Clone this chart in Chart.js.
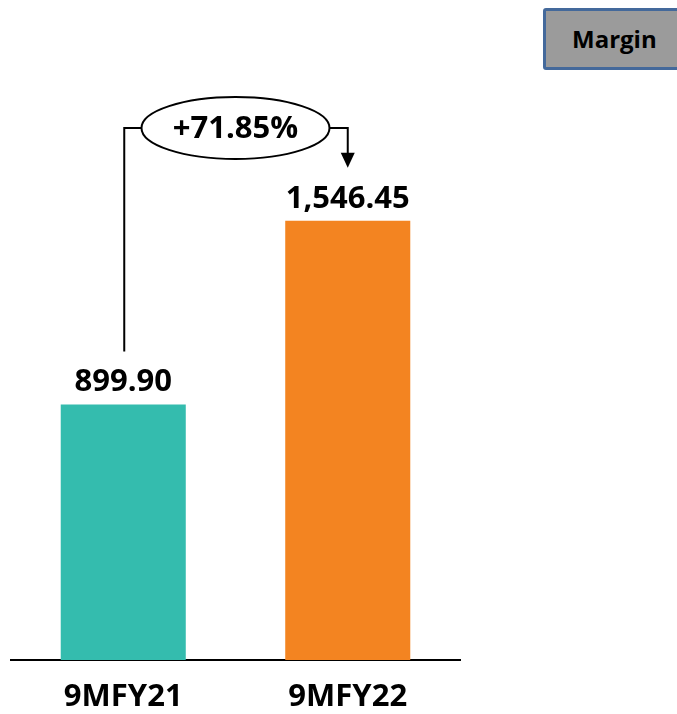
<!DOCTYPE html>
<html>
<head>
<meta charset="utf-8">
<script src="https://cdn.jsdelivr.net/npm/chart.js@4/dist/chart.umd.min.js"></script>
<style>
  html, body { margin: 0; padding: 0; background: #fff; }
  #wrap { position: relative; width: 677px; height: 714px; }
  #margin {
    position: absolute; left: 543px; top: 8px; width: 140px; height: 62px;
    box-sizing: border-box; background: #9b9b9b; border: 3px solid #44699b;
    border-radius: 3px; font: 700 24px "Open Sans", sans-serif; color: #000;
    line-height: 56px; padding-left: 26px;
  }
</style>
</head>
<body>
<div id="wrap">
  <canvas id="c" width="677" height="714"></canvas>
  <div id="margin">Margin</div>
</div>
<script>
const CATEGORIES = ['9MFY21', '9MFY22'];
const VALUES = [899.90, 1546.45];
const VALUE_LABELS = ['899.90', '1,546.45'];
const BAR_COLORS = ['#34bcae', '#f38421'];
const GROWTH_LABEL = '+71.85%';

const FONT = '"Open Sans", sans-serif';

// value labels over the bars plus the growth connector between them
const annotate = {
  id: 'annotate',
  afterDatasetsDraw(chart) {
    const { ctx } = chart;
    const bars = chart.getDatasetMeta(0).data;
    ctx.save();
    ctx.fillStyle = '#000';
    ctx.font = `700 31px ${FONT}`;
    ctx.textAlign = 'center';
    ctx.textBaseline = 'alphabetic';
    bars.forEach((bar, i) => ctx.fillText(VALUE_LABELS[i], bar.x, bar.y - 13));

    const a = bars[0], b = bars[1];
    const cx = (a.x + b.x) / 2;
    const cy = 128;
    const rx = 94, ry = 31;
    ctx.strokeStyle = '#000';
    ctx.lineWidth = 2;
    ctx.beginPath();
    ctx.moveTo(a.x + 1, a.y - 53);
    ctx.lineTo(a.x + 1, cy);
    ctx.lineTo(cx - rx, cy);
    ctx.moveTo(cx + rx, cy);
    ctx.lineTo(b.x, cy);
    ctx.lineTo(b.x, b.y - 60);
    ctx.stroke();
    // arrow head
    ctx.beginPath();
    ctx.moveTo(b.x - 7, b.y - 68);
    ctx.lineTo(b.x + 7, b.y - 68);
    ctx.lineTo(b.x, b.y - 53);
    ctx.closePath();
    ctx.fill();
    // ellipse with growth text
    ctx.beginPath();
    ctx.ellipse(cx, cy, rx, ry, 0, 0, Math.PI * 2);
    ctx.fillStyle = '#fff';
    ctx.fill();
    ctx.stroke();
    ctx.fillStyle = '#000';
    ctx.textBaseline = 'middle';
    ctx.fillText(GROWTH_LABEL, cx, cy + 1);
    ctx.restore();
  }
};

new Chart(document.getElementById('c'), {
  type: 'bar',
  data: {
    labels: CATEGORIES,
    datasets: [{
      data: VALUES,
      backgroundColor: BAR_COLORS,
      categoryPercentage: 1,
      barPercentage: 0.557,
    }],
  },
  options: {
    responsive: false,
    animation: false,
    layout: { padding: { left: 11, right: 217, top: 92, bottom: 0 } },
    plugins: { legend: { display: false }, tooltip: { enabled: false } },
    scales: {
      x: {
        grid: { display: false },
        border: { display: true, color: '#000', width: 2 },
        ticks: { color: '#000', font: { family: FONT, weight: '700', size: 31 }, padding: 11 },
        afterFit(scale) { scale.height = 54; },
      },
      y: { display: false, min: 0, max: 2000 },
    },
  },
  plugins: [annotate],
});
</script>
</body>
</html>
